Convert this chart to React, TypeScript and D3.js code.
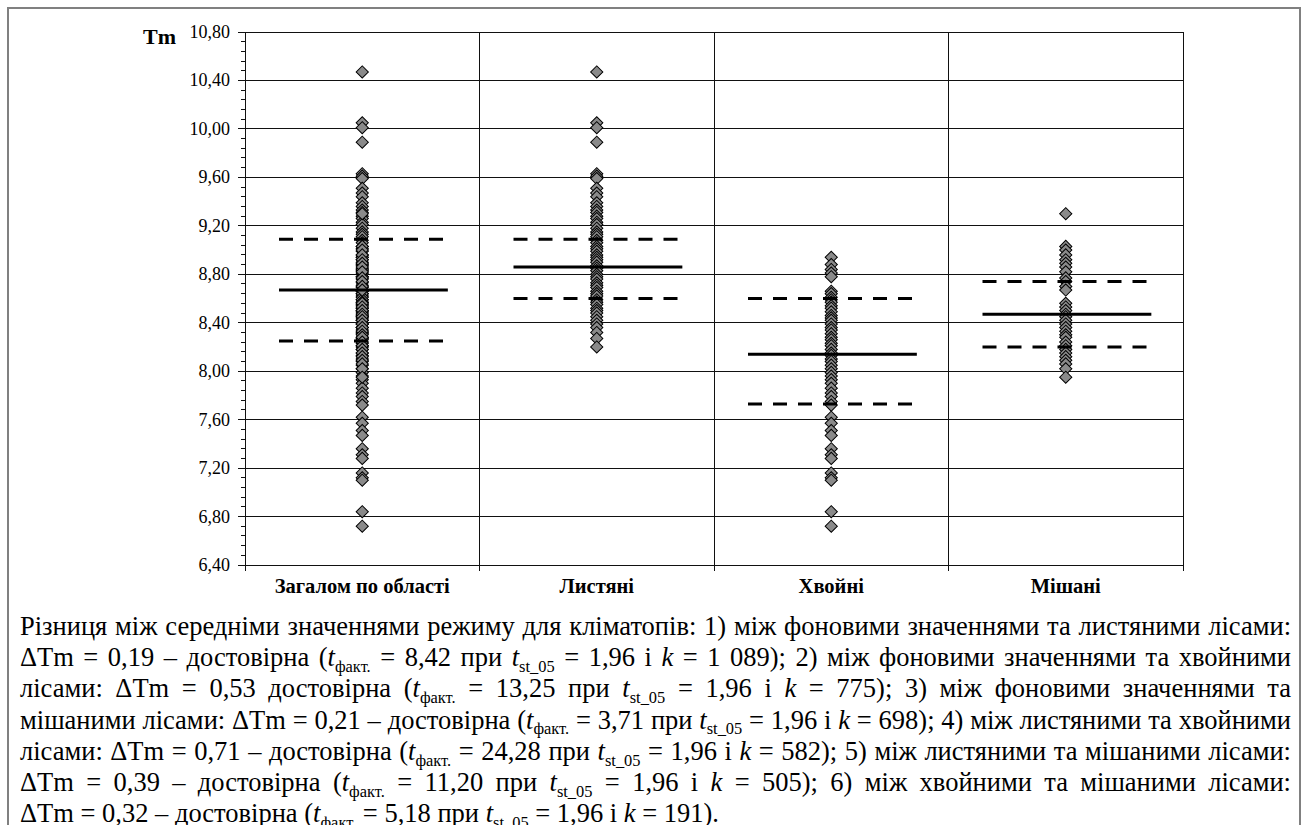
import React, { useLayoutEffect, useRef, useState } from "react";
import * as d3 from "d3";

const categories = ["Загалом по області", "Листяні", "Хвойні", "Мішані"];

const deciduousValues = [
  10.47, 10.05, 10.01, 9.89, 9.63, 9.61, 9.59, 9.51, 9.47, 9.44, 9.39, 9.36, 9.33, 9.31,
  9.28, 9.26, 9.23, 9.21, 9.18, 9.15, 9.13, 9.11, 9.08, 9.06, 9.03, 9.01, 8.99, 8.96, 8.94,
  8.92, 8.9, 8.87, 8.85, 8.83, 8.8, 8.78, 8.76, 8.73, 8.71, 8.69, 8.66, 8.64, 8.62, 8.59,
  8.57, 8.55, 8.52, 8.5, 8.48, 8.45, 8.42, 8.39, 8.36, 8.32, 8.27, 8.2,
];

const coniferousValues = [
  8.94, 8.88, 8.84, 8.81, 8.78, 8.66, 8.64, 8.61, 8.59, 8.57, 8.54, 8.52, 8.49, 8.46, 8.44,
  8.42, 8.39, 8.36, 8.34, 8.31, 8.28, 8.26, 8.23, 8.21, 8.18, 8.15, 8.13, 8.1, 8.08, 8.05,
  8.02, 7.99, 7.96, 7.93, 7.9, 7.86, 7.82, 7.79, 7.75, 7.72, 7.62, 7.57, 7.51, 7.47, 7.36,
  7.31, 7.28, 7.16, 7.12, 7.1, 6.84, 6.72,
];

const mixedValues = [
  9.3, 9.03, 9.0, 8.96, 8.92, 8.89, 8.86, 8.82, 8.77, 8.74, 8.7, 8.67, 8.56, 8.53, 8.5, 8.47,
  8.45, 8.42, 8.39, 8.36, 8.33, 8.3, 8.28, 8.24, 8.21, 8.18, 8.15, 8.12, 8.09, 8.06, 8.02,
  7.95,
];

const totalValues = [
  10.47, 10.05, 10.01, 9.89, 9.63, 9.61, 9.59, 9.51, 9.47, 9.44, 9.39, 9.36, 9.33, 9.31,
  9.28, 9.26, 9.23, 9.21, 9.18, 9.15, 9.13, 9.11, 9.08, 9.06, 9.03, 9.01, 8.99, 8.96, 8.94,
  8.92, 8.9, 8.87, 8.85, 8.83, 8.8, 8.78, 8.76, 8.73, 8.71, 8.69, 8.66, 8.64, 8.62, 8.59,
  8.57, 8.55, 8.52, 8.5, 8.48, 8.45, 8.42, 8.39, 8.36, 8.32, 8.27, 8.2,
  8.94, 8.88, 8.84, 8.81, 8.78, 8.66, 8.64, 8.61, 8.59, 8.57, 8.54, 8.52, 8.49, 8.46, 8.44,
  8.42, 8.39, 8.36, 8.34, 8.31, 8.28, 8.26, 8.23, 8.21, 8.18, 8.15, 8.13, 8.1, 8.08, 8.05,
  8.02, 7.99, 7.96, 7.93, 7.9, 7.86, 7.82, 7.79, 7.75, 7.72, 7.62, 7.57, 7.51, 7.47, 7.36,
  7.31, 7.28, 7.16, 7.12, 7.1, 6.84, 6.72,
  9.3, 9.03, 9.0, 8.96, 8.92, 8.89, 8.86, 8.82, 8.77, 8.74, 8.7, 8.67, 8.56, 8.53, 8.5, 8.47,
  8.45, 8.42, 8.39, 8.36, 8.33, 8.3, 8.28, 8.24, 8.21, 8.18, 8.15, 8.12, 8.09, 8.06, 8.02,
  7.95,
];

const seriesValues = [totalValues, deciduousValues, coniferousValues, mixedValues];

const meanValues = [8.67, 8.86, 8.14, 8.47];
const upperValues = [9.09, 9.09, 8.6, 8.74];
const lowerValues = [8.25, 8.6, 7.73, 8.2];

const yTickValues = [6.4, 6.8, 7.2, 7.6, 8.0, 8.4, 8.8, 9.2, 9.6, 10.0, 10.4, 10.8];
const yTickLabels = ["6,40", "6,80", "7,20", "7,60", "8,00", "8,40", "8,80", "9,20", "9,60", "10,00", "10,40", "10,80"];
const yMinorStep = 0.08;
const yAxisTitle = "Tm";

const captionLines = [
  "Різниця між середніми значеннями режиму для кліматопів: 1) між фоновими значеннями та листяними лісами:",
  "ΔTm = 0,19 – достовірна ({t:факт.} = 8,42 при {t:st_05} = 1,96 і {k} = 1\u00A0089); 2) між фоновими значеннями та хвойними",
  "лісами: ΔTm = 0,53 достовірна ({t:факт.} = 13,25 при {t:st_05} = 1,96 і {k} = 775); 3) між фоновими значеннями та",
  "мішаними лісами: ΔTm = 0,21 – достовірна ({t:факт.} = 3,71 при {t:st_05} = 1,96 і {k} = 698); 4) між листяними та хвойними",
  "лісами: ΔTm = 0,71 – достовірна ({t:факт.} = 24,28 при {t:st_05} = 1,96 і {k} = 582); 5) між листяними та мішаними лісами:",
  "ΔTm = 0,39 – достовірна ({t:факт.} = 11,20 при {t:st_05} = 1,96 і {k} = 505); 6) між хвойними та мішаними лісами:",
  "ΔTm = 0,32 – достовірна ({t:факт.} = 5,18 при {t:st_05} = 1,96 і {k} = 191).",
];

const W = 1309;
const H = 825;
const FONT = "Liberation Serif";

const plot = { left: 245, right: 1183, top: 32, bottom: 565 };

function CaptionLine({ text, x, y, width, justify, fontSize }: any) {
  const ref = useRef<SVGTextElement>(null);
  const [ws, setWs] = useState(0);
  useLayoutEffect(() => {
    const el = ref.current;
    if (!el || !justify) return;
    const w = el.getComputedTextLength();
    const n = (el.textContent || "").split("").filter((c) => c === " " || c === "\u00A0").length;
    if (n > 0) setWs((width - w) / n);
  }, []);
  const parts = text.split(/(\{t:[^}]+\}|\{k\})/).filter((p: string) => p.length > 0);
  const shift = fontSize * 0.22;
  const nodes: any[] = [];
  let pendingUp = false;
  parts.forEach((p: string, i: number) => {
    if (p.startsWith("{t:")) {
      const sub = p.slice(3, -1);
      nodes.push(<tspan key={i + "a"} fontStyle="italic" dy={pendingUp ? -shift : 0}>t</tspan>);
      nodes.push(<tspan key={i + "b"} fontSize={fontSize * 0.62} dy={shift}>{sub}</tspan>);
      pendingUp = true;
    } else if (p === "{k}") {
      nodes.push(<tspan key={i} fontStyle="italic" dy={pendingUp ? -shift : 0}>k</tspan>);
      pendingUp = false;
    } else {
      nodes.push(<tspan key={i} dy={pendingUp ? -shift : 0}>{p}</tspan>);
      pendingUp = false;
    }
  });
  return (
    <text
      ref={ref}
      x={x}
      y={y}
      fontFamily={FONT}
      fontSize={fontSize}
      fill="#000"
      wordSpacing={ws}
      xmlSpace="preserve"
    >
      {nodes}
    </text>
  );
}

export default function App() {
  const x = d3.scaleBand<string>().domain(categories).range([plot.left, plot.right]).padding(0);
  const y = d3.scaleLinear().domain([6.4, 10.8]).range([plot.bottom, plot.top]);
  const bw = x.bandwidth();
  const nMinor = Math.round((10.8 - 6.4) / yMinorStep);
  const minorTicks = d3.range(0, nMinor + 1).map((i) => 6.4 + i * yMinorStep);
  const boundaries = categories.map((c) => x(c) as number).concat([plot.right]);
  const diamond = d3.symbol().type(d3.symbolSquare).size(74)()!;

  const lineX1 = (c: string) => (x(c) as number) + bw / 2 - bw * 0.355;
  const lineX2 = (c: string) => (x(c) as number) + bw / 2 + bw * 0.365;

  const capFont = 26.5;
  const capLeft = 20;
  const capRight = 1291;
  const capTop = 635;
  const capStep = 31.2;

  return (
    <svg width={W} height={H} style={{ position: "absolute", left: 0, top: 0, background: "#fff" }}>
      <rect x={0} y={0} width={W} height={H} fill="#fff" />
      <rect x={8} y={8} width={1292} height={840} fill="none" stroke="#808080" strokeWidth={2} />

      <g shapeRendering="crispEdges">
        {yTickValues.map((v, i) => (
          <line key={i} x1={plot.left} x2={plot.right} y1={y(v)} y2={y(v)} stroke="#111" strokeWidth={1} />
        ))}
        {boundaries.map((bx, i) => (
          <line key={"v" + i} x1={bx} x2={bx} y1={plot.top} y2={plot.bottom} stroke="#111" strokeWidth={1} />
        ))}
        {minorTicks.map((v, i) => (
          <line key={"m" + i} x1={plot.left - 4} x2={plot.left} y1={y(v)} y2={y(v)} stroke="#111" />
        ))}
        {yTickValues.map((v, i) => (
          <line key={"M" + i} x1={plot.left - 7} x2={plot.left} y1={y(v)} y2={y(v)} stroke="#111" />
        ))}
        {boundaries.map((bx, i) => (
          <line key={"xt" + i} x1={bx} x2={bx} y1={plot.bottom} y2={plot.bottom + 6} stroke="#111" />
        ))}
      </g>

      {yTickValues.map((v, i) => (
        <text key={"yl" + i} x={plot.left - 15} y={y(v) + 6}
          textAnchor="end" fontFamily={FONT} fontSize={18} fill="#000">
          {yTickLabels[i]}
        </text>
      ))}
      <text x={143} y={44} fontFamily={FONT} fontSize={22} fontWeight="bold" fill="#000">
        {yAxisTitle}
      </text>

      {categories.map((c, i) => (
        <text key={"xl" + i} x={(x(c) as number) + bw / 2} y={593}
          textAnchor="middle" fontFamily={FONT} fontSize={20.5} fontWeight="bold" fill="#000">
          {c}
        </text>
      ))}

      {categories.map((c, i) => (
        <g key={"p" + i}>
          {seriesValues[i].map((v, j) => (
            <path key={j} d={diamond}
              transform={`translate(${(x(c) as number) + bw / 2},${y(v)}) rotate(45)`}
              fill="#8a8a8a" stroke="#000" strokeWidth={1} />
          ))}
        </g>
      ))}

      {categories.map((c, i) => (
        <g key={"l" + i}>
          <line x1={lineX1(c)} x2={lineX2(c)} y1={y(meanValues[i])} y2={y(meanValues[i])} stroke="#000" strokeWidth={3} />
          <line x1={lineX1(c)} x2={lineX2(c)} y1={y(upperValues[i])} y2={y(upperValues[i])} stroke="#000" strokeWidth={3} strokeDasharray="14 11" />
          <line x1={lineX1(c)} x2={lineX2(c)} y1={y(lowerValues[i])} y2={y(lowerValues[i])} stroke="#000" strokeWidth={3} strokeDasharray="14 11" />
        </g>
      ))}

      {captionLines.map((t, i) => (
        <CaptionLine key={"c" + i} text={t} x={capLeft} y={capTop + i * capStep}
          width={capRight - capLeft} justify={i < captionLines.length - 1} fontSize={capFont} />
      ))}
    </svg>
  );
}
